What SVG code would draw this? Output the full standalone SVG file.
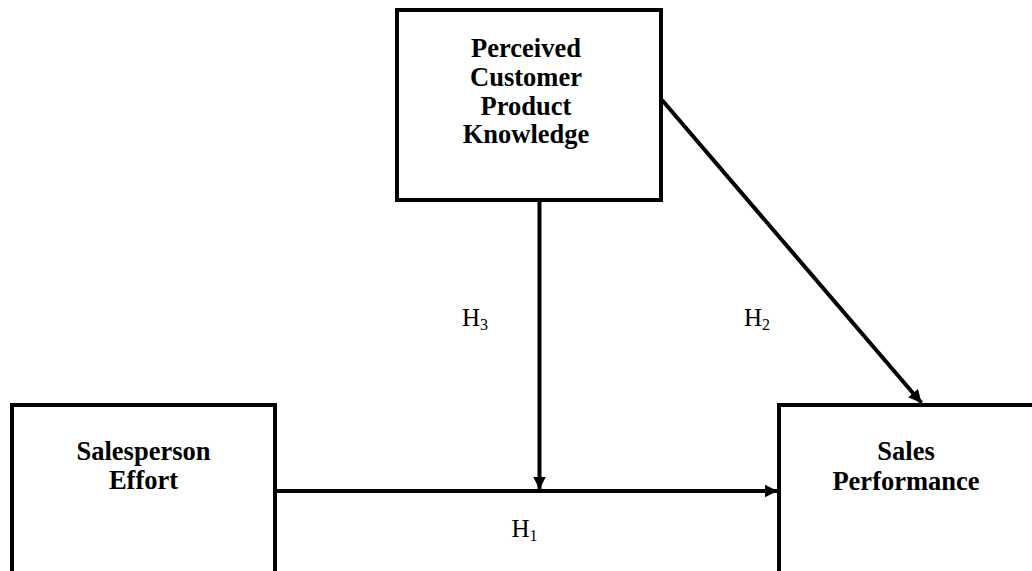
<svg xmlns="http://www.w3.org/2000/svg" width="1032" height="571" viewBox="0 0 1032 571">
<style>
.box{fill:#fff;stroke:#000;stroke-width:4}
.lbl{font-family:"Liberation Serif","Times New Roman",serif;font-weight:bold;font-size:26.5px;fill:#000;text-anchor:middle}
.h{font-family:"Liberation Serif","Times New Roman",serif;font-size:25px;fill:#000}
.sub{font-size:16px}
.conn{stroke:#000;stroke-width:4;fill:none}
</style>
<defs>
<marker id="arr" markerUnits="userSpaceOnUse" markerWidth="15" markerHeight="15" refX="13" refY="6.5" orient="auto">
<path d="M0,0 L13,6.5 L0,13 Z" fill="#000"/>
</marker>
</defs>
<rect width="1032" height="571" fill="#fff"/>
<g id="node-pckn">
<rect class="box" x="397" y="10" width="264" height="190"/>
<text class="lbl" x="526" y="57">Perceived</text>
<text class="lbl" x="526" y="86">Customer</text>
<text class="lbl" x="526" y="115">Product</text>
<text class="lbl" x="526" y="143">Knowledge</text>
</g>
<g id="node-effort">
<rect class="box" x="12" y="405" width="263" height="180"/>
<text class="lbl" x="143.5" y="460">Salesperson</text>
<text class="lbl" x="143.5" y="489">Effort</text>
</g>
<g id="node-perf">
<rect class="box" x="779" y="405" width="260" height="180"/>
<text class="lbl" x="906" y="460">Sales</text>
<text class="lbl" x="906" y="490">Performance</text>
</g>
<g id="connectors">
<line class="conn" x1="277" y1="491" x2="777.5" y2="491" marker-end="url(#arr)"/>
<line class="conn" x1="539.5" y1="202" x2="539.5" y2="489.5" marker-end="url(#arr)"/>
<line class="conn" x1="662" y1="100" x2="921.5" y2="403" marker-end="url(#arr)"/>
</g>
<g id="labels">
<text class="h" x="462" y="326">H<tspan class="sub" dy="4">3</tspan></text>
<text class="h" x="744" y="326">H<tspan class="sub" dy="4">2</tspan></text>
<text class="h" x="511.5" y="536.5">H<tspan class="sub" dy="4">1</tspan></text>
</g>
</svg>
